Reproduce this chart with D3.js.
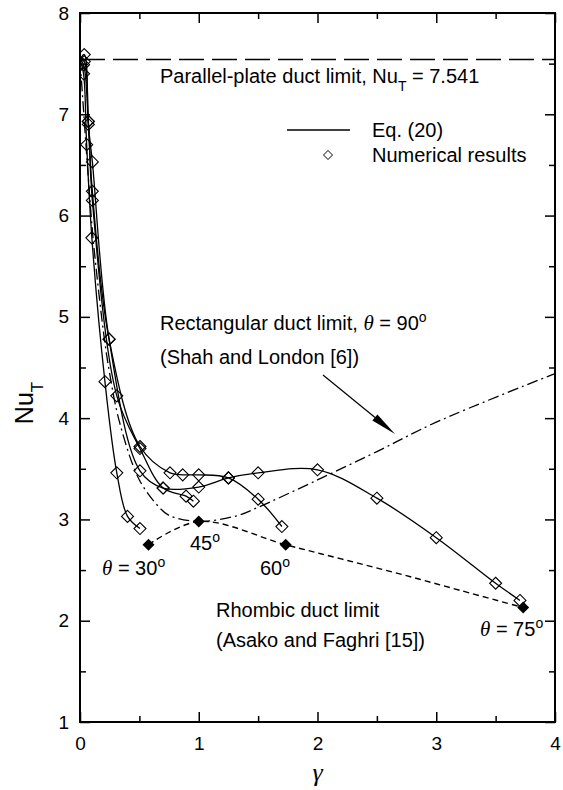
<!DOCTYPE html>
<html lang="en">
<head>
<meta charset="utf-8">
<script src="https://d3js.org/d3.v7.min.js"></script>
<style>
  body { margin: 0; background: #fff; }
  svg text { font-family: "Liberation Sans", Arial, Helvetica, sans-serif; fill: #000; }
</style>
</head>
<body>
<div id="chart"></div>
<script>
// ---- data ----
var parallelLimit = 7.541;

// Eq. (20) curves / numerical results, one pair of arrays per angle
var gamma30 = [0.03, 0.056, 0.10, 0.21, 0.31, 0.40, 0.505];
var nu30    = [7.40, 6.70, 5.78, 4.36, 3.46, 3.03, 2.91];

var gamma45 = [0.03, 0.07, 0.104, 0.31, 0.505, 0.70, 0.893, 0.955];
var nu45    = [7.49, 6.93, 6.15, 4.22, 3.70, 3.31, 3.23, 3.18];

var gamma60 = [0.036, 0.07, 0.104, 0.245, 0.505, 0.758, 0.865, 1.0, 1.25, 1.5, 1.70];
var nu60    = [7.59, 6.93, 6.24, 4.78, 3.72, 3.46, 3.44, 3.44, 3.41, 3.20, 2.93];

var gamma75 = [0.036, 0.07, 0.104, 0.245, 0.505, 0.70, 1.0, 1.25, 1.5, 2.0, 2.5, 3.0, 3.5, 3.705];
var nu75    = [7.52, 6.90, 6.53, 4.78, 3.48, 3.31, 3.32, 3.41, 3.46, 3.49, 3.21, 2.82, 2.37, 2.20];

// rectangular duct limit (Shah and London)
var rectGamma = [0, 0.1, 0.125, 0.2, 0.25, 0.333, 0.5, 0.667, 0.75, 1, 1.333, 1.5, 2, 2.5, 3, 4];
var rectNu    = [7.541, 5.91, 5.60, 4.83, 4.44, 3.96, 3.39, 3.12, 3.04, 2.98, 3.04, 3.12, 3.39, 3.67, 3.96, 4.44];

// rhombic duct limit (Asako and Faghri)
var rhombAngles = [30, 45, 60, 75];
var rhombGamma  = [0.577, 1.0, 1.732, 3.732];
var rhombNu     = [2.75, 2.98, 2.75, 2.13];
var rhombCurveGamma = [0.577, 1.0, 1.732, 2.2, 2.7, 3.2, 3.732];
var rhombCurveNu    = [2.75, 2.98, 2.75, 2.61, 2.46, 2.30, 2.13];

var xTicks = [0, 1, 2, 3, 4];
var yTicks = [1, 2, 3, 4, 5, 6, 7, 8];

// ---- layout ----
var W = 563, H = 790;
var margin = { top: 13, right: 8, bottom: 68, left: 80 };

var svg = d3.select("#chart").append("svg")
    .attr("width", W)
    .attr("height", H);

var x = d3.scaleLinear().domain([0, 4]).range([margin.left, W - margin.right]);
var y = d3.scaleLinear().domain([1, 8]).range([H - margin.bottom, margin.top]);

var halves = d3.range(0.5, 4, 1);
var yHalves = d3.range(1.5, 8, 1);

// axes: major ticks inside, minor ticks at halves
function styleAxis(g) {
    g.select(".domain").remove();
    g.selectAll("line").attr("stroke", "#000").attr("stroke-width", 1.5);
    g.selectAll("text").style("font-size", "19px").attr("fill", "#000");
}

svg.append("g")
    .attr("transform", "translate(0," + y(1) + ")")
    .call(d3.axisBottom(x).tickValues(xTicks).tickSize(-10).tickPadding(15).tickFormat(d3.format("d")))
    .call(styleAxis);
svg.append("g")
    .attr("transform", "translate(0," + y(1) + ")")
    .call(d3.axisBottom(x).tickValues(halves).tickSize(-6).tickFormat(""))
    .call(styleAxis);
svg.append("g")
    .attr("transform", "translate(0," + y(8) + ")")
    .call(d3.axisTop(x).tickValues(xTicks).tickSize(-10).tickFormat(""))
    .call(styleAxis);
svg.append("g")
    .attr("transform", "translate(0," + y(8) + ")")
    .call(d3.axisTop(x).tickValues(halves).tickSize(-6).tickFormat(""))
    .call(styleAxis);
svg.append("g")
    .attr("transform", "translate(" + x(0) + ",0)")
    .call(d3.axisLeft(y).tickValues(yTicks).tickSize(-10).tickPadding(11).tickFormat(d3.format("d")))
    .call(styleAxis);
svg.append("g")
    .attr("transform", "translate(" + x(0) + ",0)")
    .call(d3.axisLeft(y).tickValues(yHalves).tickSize(-6).tickFormat(""))
    .call(styleAxis);
svg.append("g")
    .attr("transform", "translate(" + x(4) + ",0)")
    .call(d3.axisRight(y).tickValues(yTicks).tickSize(-10).tickFormat(""))
    .call(styleAxis);
svg.append("g")
    .attr("transform", "translate(" + x(4) + ",0)")
    .call(d3.axisRight(y).tickValues(yHalves).tickSize(-6).tickFormat(""))
    .call(styleAxis);

// frame
svg.append("rect")
    .attr("x", x(0)).attr("y", y(8))
    .attr("width", x(4) - x(0)).attr("height", y(1) - y(8))
    .attr("fill", "none").attr("stroke", "#000").attr("stroke-width", 2);

// axis titles
var yTitle = svg.append("text")
    .attr("transform", "translate(33," + 403 + ") rotate(-90)")
    .attr("text-anchor", "middle")
    .style("font-size", "25px");
yTitle.append("tspan").text("Nu");
yTitle.append("tspan").attr("baseline-shift", "sub").style("font-size", "17px").text("T");

svg.append("text")
    .attr("x", x(2)).attr("y", 781)
    .attr("text-anchor", "middle")
    .style("font-family", "'Liberation Serif', 'Times New Roman', serif")
    .style("font-style", "italic")
    .style("font-size", "26px")
    .text("γ");

// ---- lines ----
svg.append("clipPath").attr("id", "plotclip")
    .append("rect")
    .attr("x", x(0)).attr("y", y(8))
    .attr("width", x(4) - x(0)).attr("height", y(1) - y(8));

var plot = svg.append("g").attr("clip-path", "url(#plotclip)");

function zip(gs, ns) { return gs.map(function (g, i) { return [g, ns[i]]; }); }

var line = d3.line()
    .x(function (d) { return x(d[0]); })
    .y(function (d) { return y(d[1]); })
    .curve(d3.curveCatmullRom.alpha(0.5));

// parallel-plate limit
plot.append("line")
    .attr("x1", x(0)).attr("x2", x(4))
    .attr("y1", y(parallelLimit)).attr("y2", y(parallelLimit))
    .attr("stroke", "#000").attr("stroke-width", 1.5)
    .attr("stroke-dasharray", "25,8");

// rectangular limit (dash-dot)
plot.append("path")
    .datum(zip(rectGamma, rectNu))
    .attr("fill", "none").attr("stroke", "#000").attr("stroke-width", 1.3)
    .attr("stroke-dasharray", "11,4,2,4")
    .attr("d", line);

// rhombic limit (dashed)
plot.append("path")
    .datum(zip(rhombCurveGamma, rhombCurveNu))
    .attr("fill", "none").attr("stroke", "#000").attr("stroke-width", 1.4)
    .attr("stroke-dasharray", "6,4")
    .attr("d", line);

var series = [
    { g: gamma30, n: nu30 },
    { g: gamma45, n: nu45 },
    { g: gamma60, n: nu60 },
    { g: gamma75, n: nu75 }
];

series.forEach(function (s) {
    var pts = [[0, parallelLimit]].concat(zip(s.g, s.n));
    plot.append("path")
        .datum(pts)
        .attr("fill", "none").attr("stroke", "#000").attr("stroke-width", 1.3)
        .attr("d", line);
});

// markers
var diamond = "M0,-6L6,0L0,6L-6,0Z";

series.forEach(function (s) {
    plot.selectAll(null)
        .data(zip(s.g, s.n))
        .enter().append("path")
        .attr("d", diamond)
        .attr("transform", function (d) { return "translate(" + x(d[0]) + "," + y(d[1]) + ")"; })
        .attr("fill", "none").attr("stroke", "#000").attr("stroke-width", 1.1);
});

plot.selectAll(null)
    .data(zip(rhombGamma, rhombNu))
    .enter().append("path")
    .attr("d", diamond)
    .attr("transform", function (d) { return "translate(" + x(d[0]) + "," + y(d[1]) + ")"; })
    .attr("fill", "#000");

// ---- annotations ----
function label(xp, yp, parts) {
    var t = svg.append("text").attr("x", xp).attr("y", yp).style("font-size", "20px");
    parts.forEach(function (p) {
        var ts = t.append("tspan").text(p.t);
        if (p.italic) ts.style("font-family", "'Liberation Serif', 'Times New Roman', serif").style("font-style", "italic").style("font-size", "21px");
        if (p.sup) ts.attr("baseline-shift", "super").style("font-size", "14px");
        if (p.sub) ts.attr("baseline-shift", "sub").style("font-size", "14px");
    });
    return t;
}

label(160, 83, [{ t: "Parallel-plate duct limit, Nu" }, { t: "T", sub: true }, { t: " = 7.541" }]);

// legend
svg.append("line")
    .attr("x1", 287).attr("x2", 350).attr("y1", 130).attr("y2", 130)
    .attr("stroke", "#000").attr("stroke-width", 1.3);
svg.append("path")
    .attr("d", "M0,-4.5L4.5,0L0,4.5L-4.5,0Z")
    .attr("transform", "translate(328,155)")
    .attr("fill", "none").attr("stroke", "#000").attr("stroke-width", 1);
label(372, 137, [{ t: "Eq. (20)" }]);
label(372, 162, [{ t: "Numerical results" }]);

label(160, 330, [{ t: "Rectangular duct limit, " }, { t: "θ", italic: true }, { t: " = 90" }, { t: "o", sup: true }]);
label(160, 364, [{ t: "(Shah and London [6])" }]);

// arrow
svg.append("line")
    .attr("x1", 323).attr("y1", 375).attr("x2", 383).attr("y2", 424)
    .attr("stroke", "#000").attr("stroke-width", 1.2);
(function () {
    var tx = 395, ty = 434, ang = Math.atan2(434 - 375, 395 - 323);
    var len = 26, hw = 4;
    var bx = tx - len * Math.cos(ang), by = ty - len * Math.sin(ang);
    var px = -Math.sin(ang) * hw, py = Math.cos(ang) * hw;
    svg.append("path")
        .attr("d", "M" + tx + "," + ty + "L" + (bx + px) + "," + (by + py) + "L" + (bx - px) + "," + (by - py) + "Z")
        .attr("fill", "#000");
})();

label(216, 617, [{ t: "Rhombic duct limit" }]);
label(216, 647, [{ t: "(Asako and Faghri [15])" }]);

label(102, 575, [{ t: "θ", italic: true }, { t: " = 30" }, { t: "o", sup: true }]);
label(190, 550, [{ t: "45" }, { t: "o", sup: true }]);
label(260, 575, [{ t: "60" }, { t: "o", sup: true }]);
label(480, 636, [{ t: "θ", italic: true }, { t: " = 75" }, { t: "o", sup: true }]);
</script>
</body>
</html>
